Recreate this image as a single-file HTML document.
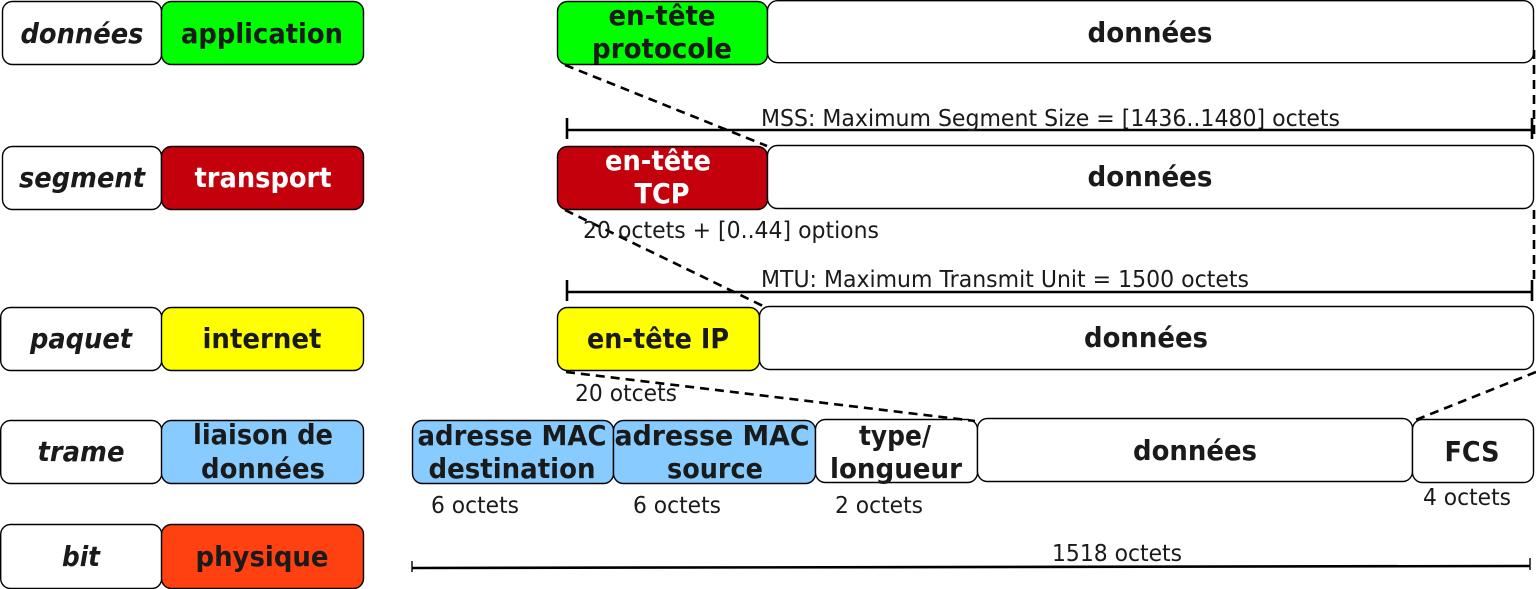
<!DOCTYPE html>
<html><head><meta charset="utf-8"><style>
html,body{margin:0;padding:0;background:#fff;width:1536px;height:589px;overflow:hidden}
svg text{font-family:"DejaVu Sans","Liberation Sans",sans-serif;fill:#1a1a1a}
.b{font-weight:bold;font-size:28px;text-anchor:middle}
.i{font-weight:bold;font-style:italic;font-size:28px;text-anchor:middle}
.s{font-size:23px}
</style></head><body>
<svg width="1536" height="589" viewBox="0 0 1536 589" xmlns="http://www.w3.org/2000/svg">
<g stroke="#000" stroke-width="1.4">
<rect x="2.5" y="1.5" width="159" height="63" rx="10" fill="#fff"/>
<rect x="161.5" y="1.5" width="202" height="63" rx="10" fill="#00ff00"/>
<rect x="2.5" y="146.5" width="159" height="63" rx="10" fill="#fff"/>
<rect x="161.5" y="146.5" width="202" height="63" rx="10" fill="#c4000c"/>
<rect x="0.7" y="307.5" width="161" height="63" rx="10" fill="#fff"/>
<rect x="161.5" y="307.5" width="202" height="63" rx="10" fill="#ffff00"/>
<rect x="0.7" y="420.5" width="161" height="63" rx="10" fill="#fff"/>
<rect x="161.5" y="420.5" width="202" height="63" rx="10" fill="#87cbff"/>
<rect x="0.7" y="524.5" width="161" height="64" rx="10" fill="#fff"/>
<rect x="161.5" y="524.5" width="202" height="64" rx="10" fill="#ff4010"/>
<rect x="557.5" y="1.5" width="210" height="63" rx="10" fill="#00ff00"/>
<rect x="767.5" y="0.7" width="766" height="62" rx="10" fill="#fff"/>
<rect x="557.5" y="146.5" width="210" height="63" rx="10" fill="#c4000c"/>
<rect x="767.5" y="145.5" width="766" height="63" rx="10" fill="#fff"/>
<rect x="557.5" y="307.5" width="202" height="63" rx="10" fill="#ffff00"/>
<rect x="759.5" y="306.5" width="774" height="63" rx="10" fill="#fff"/>
<rect x="412.5" y="420.5" width="201" height="63" rx="10" fill="#87cbff"/>
<rect x="613.5" y="420.5" width="202" height="63" rx="10" fill="#87cbff"/>
<rect x="815.5" y="419.5" width="162" height="63" rx="10" fill="#fff"/>
<rect x="977.5" y="418.5" width="435" height="63" rx="10" fill="#fff"/>
<rect x="1412.5" y="419.5" width="121" height="63" rx="10" fill="#fff"/>
</g>
<g stroke="#000" stroke-width="2.6" fill="none" stroke-dasharray="9,6">
<line x1="565" y1="65" x2="767" y2="146"/>
<line x1="1534" y1="50" x2="1534" y2="140"/>
<line x1="565" y1="210" x2="763" y2="306"/>
<line x1="1534" y1="210" x2="1534" y2="285"/>
<line x1="566" y1="372" x2="975" y2="421"/>
<line x1="1536" y1="372" x2="1413" y2="421"/>
</g>
<g stroke="#000" stroke-width="2.6" fill="none">
<line x1="566" y1="130" x2="1532" y2="130"/>
<line x1="567" y1="118" x2="567" y2="139"/>
<line x1="1532" y1="118" x2="1532" y2="139"/>
<line x1="566" y1="292" x2="1532" y2="292"/>
<line x1="567" y1="280" x2="567" y2="301"/>
<line x1="1532" y1="280" x2="1532" y2="301"/>
<line x1="412" y1="568" x2="1530" y2="566"/>
<line x1="412" y1="561" x2="412" y2="572" stroke-width="1.4"/>
<line x1="1530" y1="558" x2="1530" y2="570" stroke-width="1.4"/>
</g>
<text class="i" x="82" y="43" textLength="123" lengthAdjust="spacingAndGlyphs">données</text>
<text class="b" x="262" y="43" textLength="162" lengthAdjust="spacingAndGlyphs">application</text>
<text class="i" x="82" y="187" textLength="126" lengthAdjust="spacingAndGlyphs">segment</text>
<text class="b" x="263" y="187" textLength="137" lengthAdjust="spacingAndGlyphs" style="fill:#fff">transport</text>
<text class="i" x="81" y="348" textLength="102" lengthAdjust="spacingAndGlyphs">paquet</text>
<text class="b" x="262" y="348" textLength="119" lengthAdjust="spacingAndGlyphs">internet</text>
<text class="i" x="81" y="461" textLength="87" lengthAdjust="spacingAndGlyphs">trame</text>
<text class="b" x="263" y="444" textLength="140" lengthAdjust="spacingAndGlyphs">liaison de</text>
<text class="b" x="263" y="478" textLength="124" lengthAdjust="spacingAndGlyphs">données</text>
<text class="i" x="81" y="566" textLength="38" lengthAdjust="spacingAndGlyphs">bit</text>
<text class="b" x="262" y="566" textLength="133" lengthAdjust="spacingAndGlyphs">physique</text>

<text class="b" x="662" y="25" textLength="107" lengthAdjust="spacingAndGlyphs">en-tête</text>
<text class="b" x="662" y="58" textLength="140" lengthAdjust="spacingAndGlyphs">protocole</text>
<text class="b" x="1150" y="42" textLength="125" lengthAdjust="spacingAndGlyphs">données</text>
<text class="b" x="658" y="170" textLength="106" lengthAdjust="spacingAndGlyphs" style="fill:#fff">en-tête</text>
<text class="b" x="662" y="203" textLength="55" lengthAdjust="spacingAndGlyphs" style="fill:#fff">TCP</text>
<text class="b" x="1150" y="186" textLength="125" lengthAdjust="spacingAndGlyphs">données</text>
<text class="b" x="658" y="348" textLength="142" lengthAdjust="spacingAndGlyphs">en-tête IP</text>
<text class="b" x="1146" y="347" textLength="124" lengthAdjust="spacingAndGlyphs">données</text>
<text class="b" x="512" y="445" textLength="189" lengthAdjust="spacingAndGlyphs">adresse MAC</text>
<text class="b" x="512" y="478" textLength="167" lengthAdjust="spacingAndGlyphs">destination</text>
<text class="b" x="712" y="445" textLength="195" lengthAdjust="spacingAndGlyphs">adresse MAC</text>
<text class="b" x="715" y="478" textLength="96" lengthAdjust="spacingAndGlyphs">source</text>
<text class="b" x="895" y="445" textLength="72" lengthAdjust="spacingAndGlyphs">type/</text>
<text class="b" x="896" y="478" textLength="132" lengthAdjust="spacingAndGlyphs">longueur</text>
<text class="b" x="1195" y="460" textLength="124" lengthAdjust="spacingAndGlyphs">données</text>
<text class="b" x="1472" y="461" textLength="55" lengthAdjust="spacingAndGlyphs">FCS</text>

<text class="s" x="761" y="126" textLength="579" lengthAdjust="spacingAndGlyphs">MSS: Maximum Segment Size = [1436..1480] octets</text>
<text class="s" x="583" y="238" textLength="296" lengthAdjust="spacingAndGlyphs">20 octets + [0..44] options</text>
<text class="s" x="761" y="287" textLength="488" lengthAdjust="spacingAndGlyphs">MTU: Maximum Transmit Unit = 1500 octets</text>
<text class="s" x="575" y="401" textLength="102" lengthAdjust="spacingAndGlyphs">20 otcets</text>
<text class="s" x="431" y="513" textLength="88" lengthAdjust="spacingAndGlyphs">6 octets</text>
<text class="s" x="633" y="513" textLength="88" lengthAdjust="spacingAndGlyphs">6 octets</text>
<text class="s" x="835" y="513" textLength="88" lengthAdjust="spacingAndGlyphs">2 octets</text>
<text class="s" x="1423" y="505" textLength="88" lengthAdjust="spacingAndGlyphs">4 octets</text>
<text class="s" x="1052" y="561" textLength="130" lengthAdjust="spacingAndGlyphs">1518 octets</text>
</svg>
</body></html>
